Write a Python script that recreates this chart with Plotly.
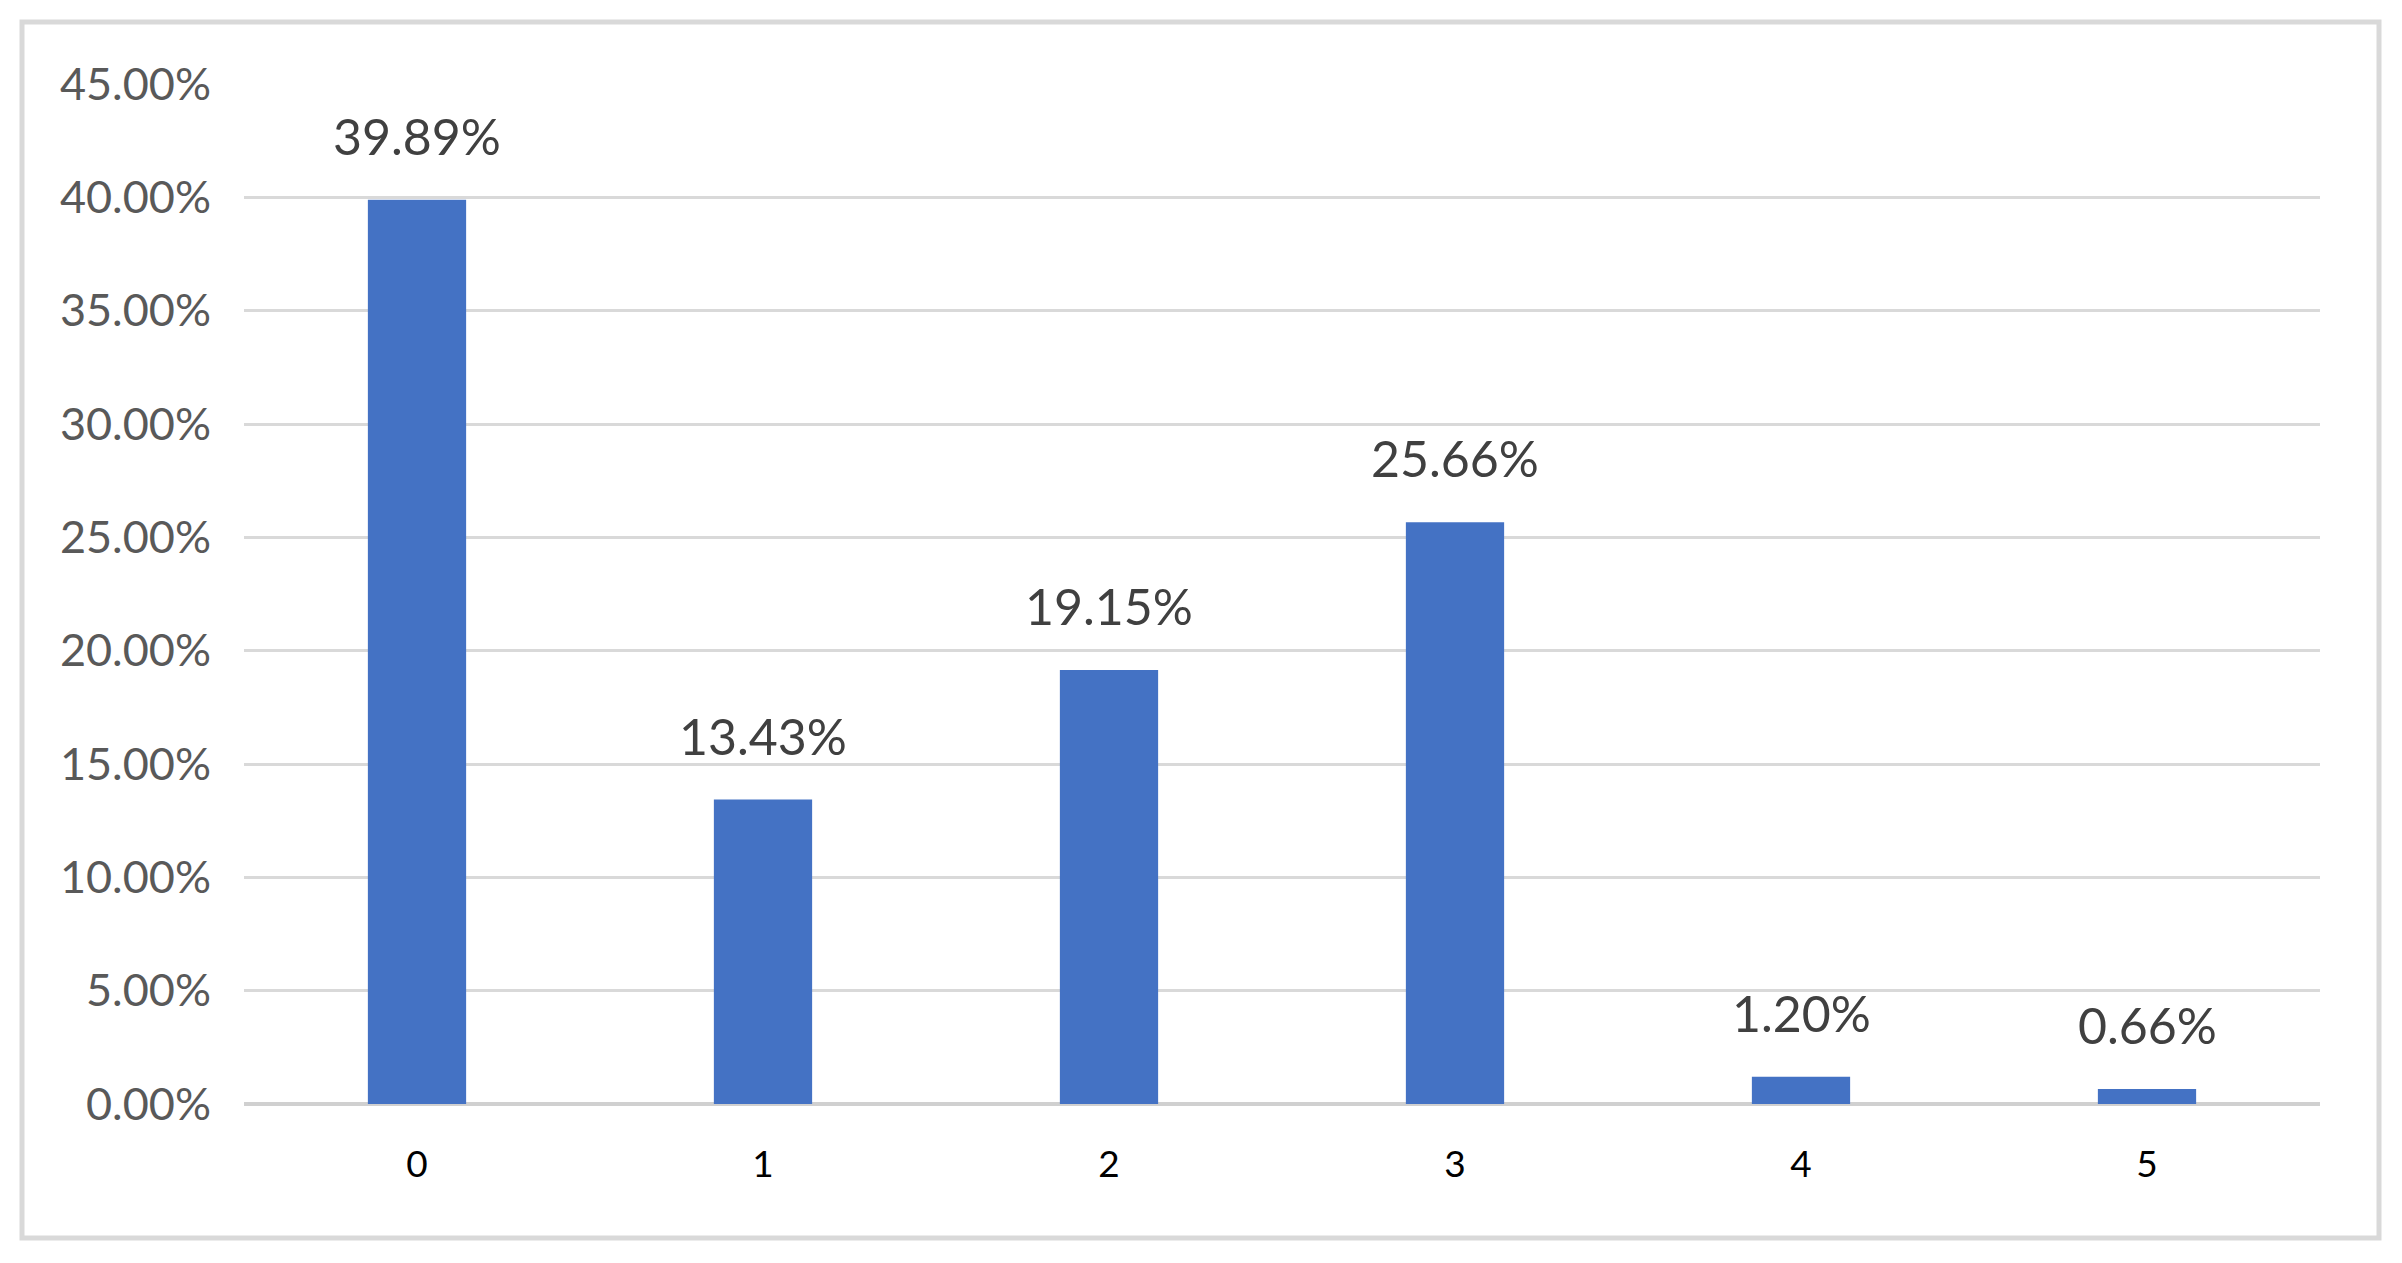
import plotly.graph_objects as go

categories = ["0", "1", "2", "3", "4", "5"]
values = [0.3989, 0.1343, 0.1915, 0.2566, 0.0120, 0.0066]
y_ticks = [0.0, 0.05, 0.10, 0.15, 0.20, 0.25, 0.30, 0.35, 0.40, 0.45]

W, H = 2402, 1263
L, R, T, B = 244, 82, 84, 159
pw, ph = W - L - R, H - T - B

fig = go.Figure()
fig.add_trace(go.Bar(
    x=categories, y=values, width=0.284,
    marker=dict(color="#4472C4", line=dict(width=0)),
    hoverinfo="skip",
))

for c, v in zip(categories, values):
    fig.add_annotation(
        x=c, y=v, text=f"{v*100:.2f}%", showarrow=False,
        yanchor="middle", xanchor="center", yshift=64,
        font=dict(family="Lato", size=50, color="#404040"),
    )

def px2paper_x(px):
    return (px - L) / pw

def px2paper_y(py):
    return (H - B - py) / ph

fig.add_shape(
    type="rect", xref="paper", yref="paper",
    x0=px2paper_x(22), x1=px2paper_x(2379),
    y0=px2paper_y(1238), y1=px2paper_y(22),
    line=dict(color="#D9D9D9", width=5), fillcolor="rgba(0,0,0,0)",
    layer="below",
)

fig.update_layout(
    width=W, height=H,
    margin=dict(l=L, r=R, t=T, b=B, pad=0),
    paper_bgcolor="white", plot_bgcolor="white",
    showlegend=False,
    xaxis=dict(
        type="category", showgrid=False, showline=False, zeroline=False,
        ticks="", tickfont=dict(family="Lato", size=37, color="#000000"),
        ticklabelstandoff=35,
    ),
    yaxis=dict(
        range=[0, 0.45], tickvals=y_ticks, tickformat=".2%",
        showgrid=True, gridcolor="#D9D9D9", gridwidth=3,
        zeroline=True, zerolinecolor="#D0D0D0", zerolinewidth=4,
        showline=False, ticks="",
        tickfont=dict(family="Lato", size=45, color="#595959"),
        ticklabelstandoff=32,
    ),
)

fig.write_html(
    "out.html",
    config={"displayModeBar": False},
    post_script="document.body.style.margin='0';document.body.style.overflow='hidden';",
)
